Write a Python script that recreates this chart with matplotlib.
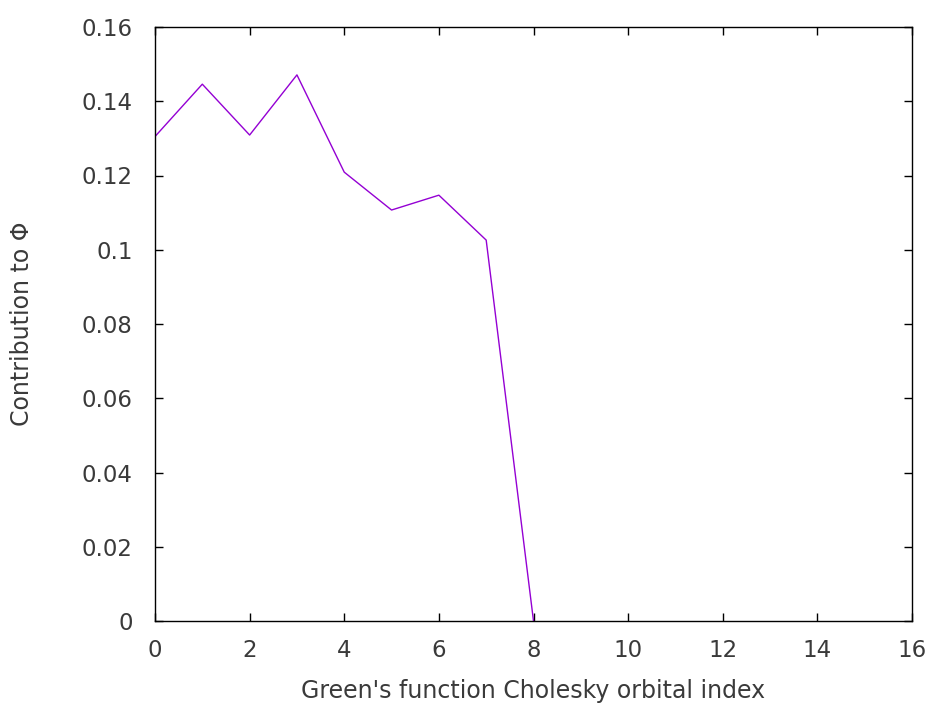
import matplotlib
matplotlib.use("Agg")
import matplotlib.pyplot as plt

orbital_index = [0, 1, 2, 3, 4, 5, 6, 7, 8]
contribution = [0.1305, 0.1446, 0.1309, 0.1471, 0.1209, 0.1107, 0.1147, 0.1026, 0.0]
x_ticks = [0, 2, 4, 6, 8, 10, 12, 14, 16]
y_ticks = [0, 0.02, 0.04, 0.06, 0.08, 0.1, 0.12, 0.14, 0.16]
y_tick_labels = ["0", "0.02", "0.04", "0.06", "0.08", "0.1", "0.12", "0.14", "0.16"]

plt.rcParams['font.family'] = ['DejaVu Sans']
fig = plt.figure(figsize=(9.29, 7.03), dpi=100)
ax = fig.add_axes([155/929, 82/703, (912-155)/929, (621-27)/703])

ax.plot(orbital_index, contribution, color='#9400D3', linewidth=1.0)
ax.set_xlim(0, 16)
ax.set_ylim(0, 0.16)
ax.set_xticks(x_ticks)
ax.set_xticklabels([str(t) for t in x_ticks])
ax.set_yticks(y_ticks)
ax.set_yticklabels(y_tick_labels)

txt = '#3a3a3a'
ax.tick_params(direction='in', length=6, width=1, top=True, right=True,
               labelsize=16.5, colors='black', labelcolor=txt)
ax.tick_params(axis='x', pad=13)
ax.tick_params(axis='y', pad=16)
for s in ax.spines.values():
    s.set_linewidth(1.0)
    s.set_color('black')

ax.set_xlabel("Green's function Cholesky orbital index", fontsize=17, color=txt)
ax.set_ylabel("Contribution to Φ", fontsize=17, color=txt)
ax.xaxis.set_label_coords(0.5, (621-679)/594)
ax.yaxis.set_label_coords((34-155)/757, 0.5)

fig.savefig('out.png', dpi=100, facecolor='white')
